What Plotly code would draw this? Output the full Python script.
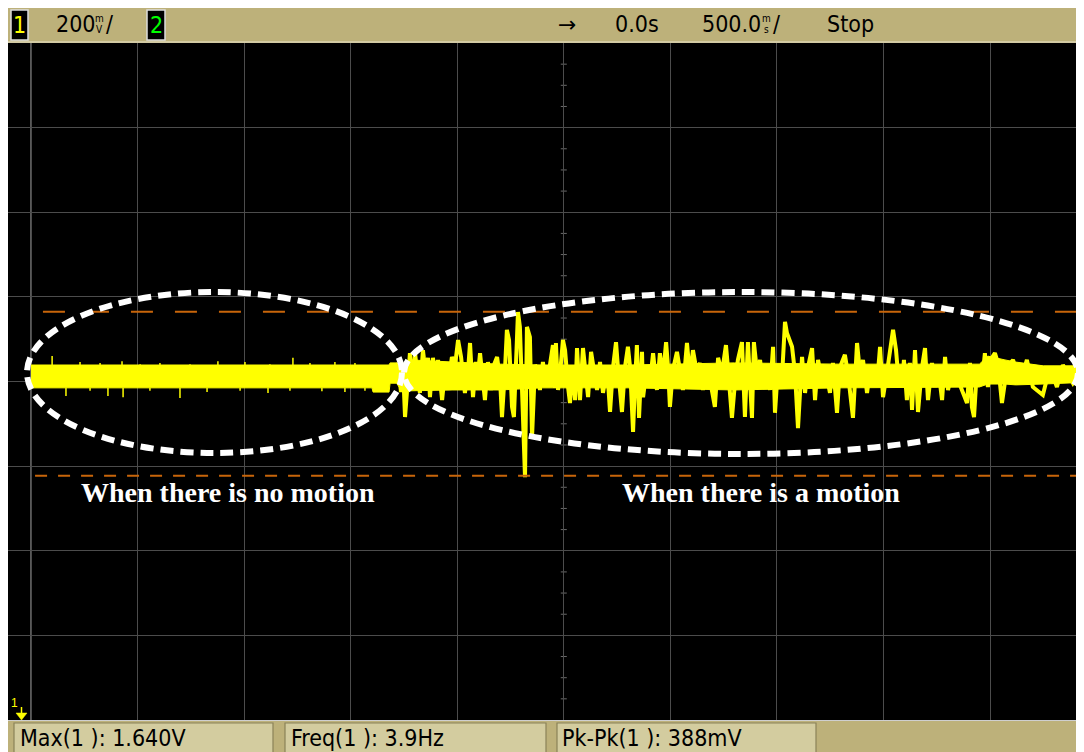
import plotly.graph_objects as go

sec_per_div = 0.5          # 500.0 ms/
volts_per_div = 0.2        # 200 mV/
centre_v = 1.475           # screen centre voltage
time_ref = 0.0             # 0.0s
max_v = 1.640              # Max(1)
pkpk_v = 0.388             # Pk-Pk(1)
freq_hz = 3.9              # Freq(1)

# dense noise band (envelope of the trace)
band_t = [-2.500, -0.900, -0.895, -0.820, -0.815, -0.785, -0.770, -0.720, -0.520,
          -0.300, -0.100, 0.300, 0.800, 1.300, 1.950, 1.990, 2.070, 2.120, 2.250, 2.441]
band_hi = [1.514, 1.514, 1.514, 1.514, 1.519, 1.519, 1.514, 1.526, 1.521,
           1.516, 1.514, 1.514, 1.519, 1.516, 1.516, 1.535, 1.526, 1.521, 1.512, 1.512]
band_lo = [1.460, 1.460, 1.450, 1.450, 1.471, 1.471, 1.460, 1.453, 1.455,
           1.455, 1.460, 1.460, 1.455, 1.460, 1.462, 1.469, 1.469, 1.467, 1.469, 1.473]

# small spikes on the quiet part of the trace
spike_up_t = [-2.401, -2.270, -2.176, -2.073, -1.988, -1.895, -1.754, -1.623, -1.496,
              -1.379, -1.271, -1.191, -1.074, -0.980]
spike_up_v = [1.535, 1.521, 1.519, 1.523, 1.516, 1.519, 1.516, 1.523, 1.521,
              1.516, 1.531, 1.519, 1.521, 1.519]
spike_dn_t = [-2.336, -2.223, -2.139, -2.068, -1.942, -1.801, -1.674, -1.519, -1.388,
              -1.285, -1.135, -1.027, -0.933]
spike_dn_v = [1.441, 1.453, 1.441, 1.438, 1.453, 1.436, 1.450, 1.453, 1.448,
              1.453, 1.452, 1.450, 1.453]

# motion signal (peaks and troughs)
sig_t = [-0.792, -0.778, -0.764, -0.754, -0.745, -0.731, -0.722, -0.708, -0.698, -0.684,
         -0.675, -0.661, -0.647, -0.637, -0.628, -0.614, -0.600, -0.590, -0.571, -0.557,
         -0.543, -0.525, -0.510, -0.496, -0.482, -0.464, -0.449, -0.440, -0.426, -0.412,
         -0.403, -0.393, -0.370, -0.356, -0.342, -0.328, -0.313, -0.299, -0.290, -0.276,
         -0.267, -0.257, -0.243, -0.234, -0.224, -0.215, -0.206, -0.191, -0.182, -0.173,
         -0.159, -0.149, -0.135, -0.121, -0.112, -0.098, -0.084, -0.065, -0.051, -0.041,
         -0.037, -0.027, -0.018, -0.004, 0.006, 0.020, 0.029, 0.043, 0.053, 0.062,
         0.076, 0.090, 0.099, 0.114, 0.128, 0.137, 0.156, 0.170, 0.184, 0.203,
         0.217, 0.231, 0.245, 0.254, 0.273, 0.287, 0.301, 0.311, 0.325, 0.334,
         0.343, 0.353, 0.367, 0.372, 0.390, 0.404, 0.419, 0.437, 0.451, 0.465,
         0.480, 0.489, 0.498, 0.512, 0.531, 0.545, 0.559, 0.578, 0.592, 0.606,
         0.625, 0.639, 0.653, 0.672, 0.686, 0.709, 0.724, 0.742, 0.761, 0.770,
         0.789, 0.803, 0.817, 0.836, 0.850, 0.864, 0.883, 0.892, 0.907, 0.921,
         0.935, 0.953, 0.968, 0.982, 0.991, 1.005, 1.024, 1.038, 1.047, 1.071,
         1.085, 1.099, 1.108, 1.118, 1.132, 1.146, 1.165, 1.179, 1.193, 1.211,
         1.226, 1.249, 1.263, 1.282, 1.296, 1.319, 1.333, 1.357, 1.376, 1.390,
         1.404, 1.423, 1.437, 1.470, 1.484, 1.498, 1.516, 1.545, 1.559, 1.568,
         1.587, 1.596, 1.610, 1.624, 1.634, 1.648, 1.662, 1.681, 1.695, 1.709,
         1.728, 1.742, 1.756, 1.775, 1.789, 1.803, 1.826, 1.868, 1.892, 1.906,
         1.915, 1.925, 1.939, 1.962, 1.976, 1.990, 2.009, 2.023, 2.037, 2.056,
         2.080, 2.108, 2.141, 2.173, 2.201, 2.248, 2.281, 2.314, 2.342, 2.389, 2.441]
sig_v = [1.490, 1.519, 1.450, 1.502, 1.391, 1.490, 1.542, 1.467, 1.542, 1.479,
         1.448, 1.549, 1.490, 1.531, 1.438, 1.531, 1.479, 1.526, 1.431, 1.502,
         1.467, 1.533, 1.514, 1.573, 1.533, 1.448, 1.502, 1.566, 1.438, 1.521,
         1.490, 1.542, 1.431, 1.521, 1.455, 1.514, 1.533, 1.479, 1.391, 1.502,
         1.597, 1.573, 1.415, 1.391, 1.526, 1.639, 1.604, 1.367, 1.249, 1.604,
         1.580, 1.344, 1.514, 1.502, 1.455, 1.521, 1.467, 1.514, 1.561, 1.460,
         1.566, 1.455, 1.490, 1.573, 1.549, 1.462, 1.424, 1.509, 1.431, 1.554,
         1.431, 1.554, 1.509, 1.438, 1.545, 1.519, 1.455, 1.521, 1.448, 1.509,
         1.403, 1.509, 1.568, 1.509, 1.403, 1.509, 1.557, 1.509, 1.356, 1.471,
         1.561, 1.389, 1.545, 1.438, 1.509, 1.471, 1.542, 1.455, 1.542, 1.486,
         1.568, 1.509, 1.415, 1.502, 1.545, 1.502, 1.455, 1.566, 1.486, 1.549,
         1.495, 1.519, 1.455, 1.509, 1.479, 1.415, 1.531, 1.495, 1.561, 1.509,
         1.389, 1.471, 1.526, 1.568, 1.391, 1.568, 1.389, 1.568, 1.495, 1.526,
         1.462, 1.509, 1.455, 1.557, 1.401, 1.509, 1.486, 1.616, 1.590, 1.557,
         1.495, 1.365, 1.431, 1.533, 1.448, 1.509, 1.554, 1.431, 1.526, 1.479,
         1.509, 1.448, 1.519, 1.401, 1.509, 1.538, 1.495, 1.389, 1.566, 1.495,
         1.526, 1.448, 1.502, 1.471, 1.557, 1.438, 1.495, 1.597, 1.549, 1.495,
         1.462, 1.526, 1.431, 1.519, 1.408, 1.549, 1.403, 1.509, 1.554, 1.431,
         1.519, 1.462, 1.509, 1.431, 1.533, 1.455, 1.509, 1.455, 1.424, 1.519,
         1.415, 1.391, 1.509, 1.471, 1.542, 1.462, 1.531, 1.542, 1.519, 1.424,
         1.509, 1.526, 1.471, 1.526, 1.462, 1.443, 1.509, 1.462, 1.514, 1.471, 1.509]

# ---------------- styling ----------------
YEL = "#ffff00"
TAN = "#bdb17a"
BOX = "#d3cc9f"
ORANGE = "#c8650a"
GRID = "#4c4c4c"
SCOPE_FONT = "Liberation Sans Narrow, Arial Narrow, DejaVu Sans Condensed, Liberation Sans, sans-serif"
SERIF = "Liberation Serif, Times New Roman, serif"

# the page body keeps its default 8px margin, so the figure starts at page (8, 8)
W, H = 1076, 744
ML, MR, MT, MB = 0, 0, 35, 32
PLOT_W = W - ML - MR
PLOT_H = H - MT - MB
PLOT_LEFT_PAGE = 8 + ML
PLOT_BOTTOM_PAGE = 8 + H - MB


def PX(px):
    """page pixel x -> paper x"""
    return (px - PLOT_LEFT_PAGE) / PLOT_W


def PY(py):
    """page pixel y -> paper y"""
    return (PLOT_BOTTOM_PAGE - py) / PLOT_H


fig = go.Figure()

# noise band
fig.add_trace(go.Scatter(x=band_t, y=band_lo, mode="lines",
                         line=dict(color=YEL, width=1), hoverinfo="skip"))
fig.add_trace(go.Scatter(x=band_t, y=band_hi, mode="lines", fill="tonexty",
                         fillcolor=YEL, line=dict(color=YEL, width=1), hoverinfo="skip"))

# quiet-part spikes
sx, sy = [], []
for t, v in zip(spike_up_t, spike_up_v):
    sx += [t, t, None]
    sy += [band_hi[0], v, None]
for t, v in zip(spike_dn_t, spike_dn_v):
    sx += [t, t, None]
    sy += [band_lo[0], v, None]
fig.add_trace(go.Scatter(x=sx, y=sy, mode="lines", line=dict(color=YEL, width=1.5),
                         hoverinfo="skip"))

# motion signal
fig.add_trace(go.Scatter(x=sig_t, y=sig_v, mode="lines",
                         line=dict(color=YEL, width=4), hoverinfo="skip"))

x_range = [-2.608, 2.441]
y_range = [centre_v - 4 * volts_per_div, centre_v + 4 * volts_per_div]

shapes = []
# bright left border of graticule
shapes.append(dict(type="line", xref="x", yref="paper", x0=-5 * sec_per_div, x1=-5 * sec_per_div,
                   y0=0, y1=1, line=dict(color="#9a9a9a", width=1.2), layer="below"))
# minor ticks on centre vertical axis
for k in range(-16, 17):
    if k % 4 == 0:
        continue
    shapes.append(dict(type="line", xref="x", yref="y", xsizemode="pixel", xanchor=time_ref,
                       x0=-3, x1=3, y0=centre_v + k * volts_per_div / 4, y1=centre_v + k * volts_per_div / 4,
                       line=dict(color="#6a6a6a", width=1), layer="below"))
# measurement markers
shapes.append(dict(type="line", xref="x", yref="y", x0=-2.444, x1=x_range[1], y0=max_v, y1=max_v,
                   line=dict(color=ORANGE, width=2, dash="22px,22px")))
shapes.append(dict(type="line", xref="x", yref="y", x0=-2.481, x1=x_range[1],
                   y0=max_v - pkpk_v, y1=max_v - pkpk_v,
                   line=dict(color=ORANGE, width=2, dash="12px,11px")))
# dotted ellipses
shapes.append(dict(type="circle", xref="paper", yref="paper", x0=PX(27), x1=PX(402),
                   y0=PY(453), y1=PY(292), line=dict(color="white", width=6, dash="13px,7px")))
shapes.append(dict(type="circle", xref="paper", yref="paper", x0=PX(404), x1=PX(1078),
                   y0=PY(454), y1=PY(292), line=dict(color="white", width=6, dash="13px,7px")))
# top status bar
shapes.append(dict(type="rect", xref="paper", yref="paper", x0=PX(8), x1=PX(1084),
                   y0=PY(43), y1=PY(7), fillcolor=TAN, line=dict(width=0)))
shapes.append(dict(type="line", xref="paper", yref="paper", x0=PX(8), x1=PX(1084),
                   y0=PY(42), y1=PY(42), line=dict(color="#e8e4cc", width=1)))
for bx0, bx1 in [(11, 28), (147, 165)]:
    shapes.append(dict(type="rect", xref="paper", yref="paper", x0=PX(bx0), x1=PX(bx1),
                       y0=PY(40), y1=PY(10), fillcolor="black", line=dict(color="#dcdcdc", width=1.5)))
# bottom measurement bar
shapes.append(dict(type="rect", xref="paper", yref="paper", x0=PX(8), x1=PX(1084),
                   y0=PY(753), y1=PY(720), fillcolor=TAN, line=dict(width=0)))
shapes.append(dict(type="line", xref="paper", yref="paper", x0=PX(8), x1=PX(1084),
                   y0=PY(720.5), y1=PY(720.5), line=dict(color="#cfcfcf", width=1)))
for bx0, bx1 in [(14, 273), (285, 546), (557, 816)]:
    shapes.append(dict(type="rect", xref="paper", yref="paper", x0=PX(bx0), x1=PX(bx1),
                       y0=PY(754), y1=PY(723), fillcolor=BOX, line=dict(color="#8a8258", width=1.2)))
# ground marker of channel 1
shapes.append(dict(type="line", xref="paper", yref="paper", x0=PX(21.5), x1=PX(21.5),
                   y0=PY(714), y1=PY(707), line=dict(color=YEL, width=1.5)))
shapes.append(dict(type="path", xref="paper", yref="paper",
                   path=f"M {PX(16)} {PY(713)} L {PX(27)} {PY(713)} L {PX(21.5)} {PY(720)} Z",
                   fillcolor=YEL, line=dict(color=YEL, width=0.5)))

ann = []


def text(s, x, y, size, color="black", anchor="left", family=SCOPE_FONT, bold=False):
    ann.append(dict(text=f"<b>{s}</b>" if bold else s, xref="paper", yref="paper",
                    x=PX(x), y=PY(y), xanchor=anchor, yanchor="middle", showarrow=False,
                    font=dict(family=family, size=size, color=color)))


# top bar texts
text("1", 19.5, 25, 23, YEL, "center")
text("2", 156, 25, 23, "#00ff00", "center")
text(f"{int(volts_per_div * 1000)}", 54, 24, 23)
text("m", 99.5, 18, 10, anchor="center")
text("V", 99.5, 30, 10, anchor="center")
text("/", 104, 24, 23)
text("→", 567, 25, 22, anchor="center", family="DejaVu Sans")
text(f"{time_ref:.1f}s", 613, 24, 23)
text(f"{sec_per_div * 1000:.1f}", 700, 24, 23)
text("m", 766, 18, 10, anchor="center")
text("s", 766, 30, 10, anchor="center")
text("/", 771, 24, 23)
text("Stop", 825, 24, 23)
# bottom measurement texts
text(f"Max(1 ): {max_v:.3f}V", 18, 738, 23)
text(f"Freq(1 ): {freq_hz}Hz", 289, 738, 23)
text(f"Pk-Pk(1 ): {pkpk_v * 1000:.0f}mV", 560, 738, 23)
# ground marker label
text("1", 14, 703, 12, YEL, "center", family="Liberation Sans")
# annotations on the screen
text("When there is no motion", 228, 492, 28, "white", "center", family=SERIF, bold=True)
text("When there is a motion", 761, 492, 28, "white", "center", family=SERIF, bold=True)

fig.update_layout(
    width=W, height=H, margin=dict(l=ML, r=MR, t=MT, b=MB),
    paper_bgcolor="white", plot_bgcolor="black", showlegend=False, hovermode=False,
    shapes=shapes, annotations=ann,
    xaxis=dict(range=x_range, showgrid=True, gridcolor=GRID, gridwidth=1,
               tick0=-5 * sec_per_div, dtick=sec_per_div, showticklabels=False,
               zeroline=False, ticks="", showline=False, fixedrange=True),
    yaxis=dict(range=y_range, showgrid=True, gridcolor=GRID, gridwidth=1,
               tick0=y_range[0], dtick=volts_per_div, showticklabels=False,
               zeroline=False, ticks="", showline=False, fixedrange=True),
)

fig.write_html("out.html")
